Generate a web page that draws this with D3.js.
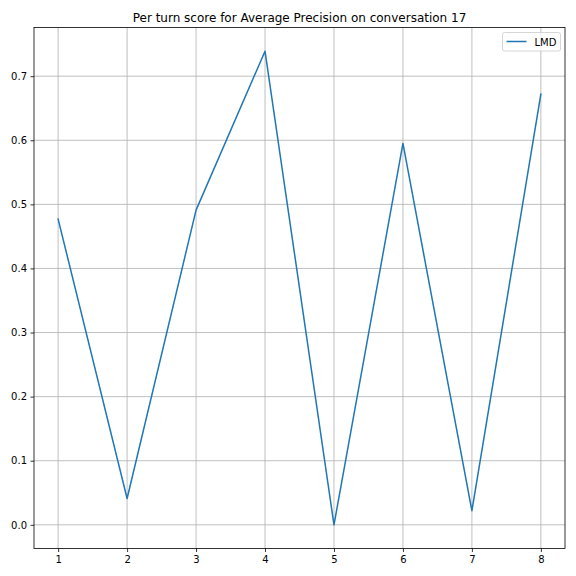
<!DOCTYPE html>
<html><head><meta charset="utf-8">
<script src="https://cdn.jsdelivr.net/npm/d3@7"></script>
<style>body{margin:0;background:#fff}svg{display:block}text{font-family:"DejaVu Sans",sans-serif;fill:#000}</style>
</head><body><svg id="c" width="576" height="576"></svg>
<script>
const turns = [1,2,3,4,5,6,7,8];
const scores = [0.477,0.041,0.491,0.739,0.0,0.595,0.022,0.672];
const yTicks = [0.0,0.1,0.2,0.3,0.4,0.5,0.6,0.7];
const title = "Per turn score for Average Precision on conversation 17";
const seriesName = "LMD";

const svg = d3.select("#c");
const L=34, R=565, T=27.5, B=548.5;
const xs = d3.scaleLinear().domain([0.65,8.35]).range([L,R]);
const yMin=0, yMax=d3.max(scores), pad=(yMax-yMin)*0.05;
const ys = d3.scaleLinear().domain([yMin-pad,yMax+pad]).range([B,T]);

svg.append("rect").attr("x",0).attr("y",0).attr("width",576).attr("height",576).attr("fill","#fff");

// grid
const g = svg.append("g");
turns.forEach(t=>g.append("line").attr("x1",xs(t)).attr("x2",xs(t)).attr("y1",T).attr("y2",B).attr("stroke","#b0b0b0").attr("stroke-width",0.8));
yTicks.forEach(t=>g.append("line").attr("x1",L).attr("x2",R).attr("y1",ys(t)).attr("y2",ys(t)).attr("stroke","#b0b0b0").attr("stroke-width",0.8));

// axes
const xa = svg.append("g").attr("transform",`translate(0,${B})`).call(d3.axisBottom(xs).tickValues(turns).tickFormat(d3.format("d")).tickSize(3.5).tickPadding(3.5));
const ya = svg.append("g").attr("transform",`translate(${L},0)`).call(d3.axisLeft(ys).tickValues(yTicks).tickFormat(d3.format(".1f")).tickSize(3.5).tickPadding(3.5));
[xa,ya].forEach(a=>{a.select(".domain").remove();a.selectAll("line").attr("stroke","#000").attr("stroke-width",0.8);a.selectAll("text").attr("font-size",10).attr("font-family","DejaVu Sans").attr("fill","#000");});

// line
svg.append("path").datum(turns.map((t,i)=>[t,scores[i]]))
  .attr("d",d3.line().x(d=>xs(d[0])).y(d=>ys(d[1])))
  .attr("fill","none").attr("stroke","#1f77b4").attr("stroke-width",1.5).attr("stroke-linejoin","round").attr("stroke-linecap","square");

// frame
svg.append("rect").attr("x",L).attr("y",T).attr("width",R-L).attr("height",B-T).attr("fill","none").attr("stroke","#000").attr("stroke-width",0.8);

// title
svg.append("text").attr("x",(L+R)/2).attr("y",T-6).attr("text-anchor","middle").attr("font-size",12).text(title);

// legend
const lg = svg.append("g");
lg.append("rect").attr("x",502.5).attr("y",32.5).attr("width",58).attr("height",18.5).attr("rx",2).attr("fill","#fff").attr("fill-opacity",0.8).attr("stroke","#cccccc").attr("stroke-width",0.8);
lg.append("line").attr("x1",506.5).attr("x2",526.5).attr("y1",41.5).attr("y2",41.5).attr("stroke","#1f77b4").attr("stroke-width",1.5);
lg.append("text").attr("x",534.5).attr("y",45.5).attr("font-size",10).text(seriesName);
</script></body></html>
